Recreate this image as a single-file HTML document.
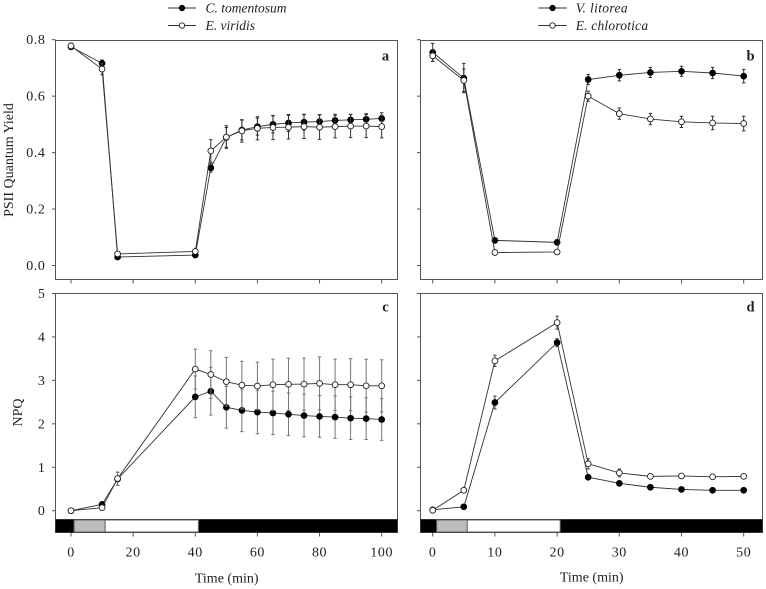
<!DOCTYPE html>
<html lang="en">
<head>
<meta charset="utf-8">
<title>PSII Quantum Yield and NPQ over time</title>
<style>
html,body{margin:0;padding:0;background:#fff;width:766px;height:589px;overflow:hidden}
svg{display:block;font-family:"Liberation Serif",serif;}
text{fill:#222}
</style>
</head>
<body>
<svg id="figure" xmlns="http://www.w3.org/2000/svg" width="766" height="589" viewBox="0 0 766 589">
  <defs><filter id="soft" x="-2%" y="-2%" width="104%" height="104%"><feGaussianBlur stdDeviation="0.35"/></filter></defs>
  <g id="root" filter="url(#soft)">
    <text transform="translate(13,160) rotate(-90)" text-anchor="middle" font-size="14">PSII Quantum Yield</text>
    <text transform="translate(22,412.5) rotate(-90)" text-anchor="middle" font-size="14">NPQ</text>
    <text x="226.7" y="582.5" text-anchor="middle" font-size="14">Time (min)</text>
    <text x="591.7" y="581.5" text-anchor="middle" font-size="14">Time (min)</text>
    <text x="205.5" y="12.5" font-size="13.5" font-style="italic">C. tomentosum</text>
    <text x="205.5" y="30" font-size="13.5" font-style="italic">E. viridis</text>
    <text x="575.7" y="12.5" font-size="13.5" font-style="italic" letter-spacing="0.35">V. litorea</text>
    <text x="575.7" y="30" font-size="13.5" font-style="italic" letter-spacing="0.2">E. chlorotica</text>
  </g>
</svg>
<script>
const NS = 'http://www.w3.org/2000/svg';

const timesLong = [0,10,15,40,45,50,55,60,65,70,75,80,85,90,95,100];
const timesShort = [0,5,10,20,25,30,35,40,45,50];

const aFilled = [.775,.716,.03,.037,.346,.454,.48,.492,.5,.505,.508,.51,.514,.516,.518,.521];
const aFilledErr = [.01,.012,.005,.005,.015,.035,.035,.03,.03,.03,.028,.025,.022,.02,.02,.02];
const aOpen = [.778,.696,.041,.05,.406,.455,.477,.486,.489,.49,.492,.49,.492,.494,.494,.492];
const aOpenErr = [.01,.02,.005,.005,.04,.04,.04,.041,.043,.042,.042,.043,.04,.041,.041,.04];

const bFilled = [.755,.664,.089,.082,.659,.674,.684,.688,.682,.671];
const bFilledErr = [.032,.052,.005,.005,.018,.02,.018,.018,.02,.024];
const bOpen = [.743,.656,.046,.048,.6,.538,.519,.509,.505,.503];
const bOpenErr = [.02,.04,.005,.005,.018,.02,.02,.02,.024,.026];

const cFilled = [0,.146,.73,2.62,2.75,2.38,2.31,2.27,2.25,2.22,2.19,2.17,2.155,2.13,2.12,2.1];
const cFilledErr = [0,.03,.15,.48,.55,.48,.49,.5,.5,.49,.49,.48,.49,.49,.48,.48];
const cOpen = [0,.07,.74,3.26,3.135,2.97,2.89,2.87,2.9,2.91,2.915,2.93,2.9,2.9,2.875,2.875];
const cOpenErr = [0,.02,.15,.46,.55,.56,.55,.55,.59,.6,.6,.61,.59,.6,.61,.6];

const dFilled = [.02,.09,2.49,3.87,.77,.63,.54,.49,.47,.47];
const dFilledErr = [0,.03,.15,.09,.05,.03,.02,.02,.02,.02];
const dOpen = [.01,.47,3.45,4.33,1.08,.87,.79,.8,.78,.79];
const dOpenErr = [0,.05,.13,.15,.12,.09,.03,.03,.03,.03];

const yTicksTop = ['0.0','0.2','0.4','0.6','0.8'];
const yTicksBottom = ['0','1','2','3','4','5'];
const xTicksLong = ['0','20','40','60','80','100'];
const xTicksShort = ['0','10','20','30','40','50'];

const root = document.getElementById('root');
const ink = '#333';

function add(parent, tag, attrs) {
  const el = document.createElementNS(NS, tag);
  for (const k in attrs) el.setAttribute(k, attrs[k]);
  parent.appendChild(el);
  return el;
}

function drawSeries(g, times, values, errs, sx, sy, filled, errColor, prefix) {
  const eg = add(g, 'g', {});
  
  
  times.forEach((t, i) => {
    if (errs[i] <= 0) return;
    const x = sx(t), y1 = sy(values[i] - errs[i]), y2 = sy(values[i] + errs[i]);
    const p = add(eg, 'path', {d: `M${x} ${y1}V${y2}M${x-1.7} ${y1}H${x+1.7}M${x-1.7} ${y2}H${x+1.7}`, stroke: errColor, 'stroke-width': 1, fill: 'none'});
    
    
  });
  const line = add(g, 'polyline', {
    points: times.map((t, i) => sx(t) + ',' + sy(values[i])).join(' '),
    fill: 'none', stroke: ink, 'stroke-width': 0.9
  });
  
  
  times.forEach((t, i) => {
    const c = add(g, 'circle', {cx: sx(t), cy: sy(values[i]), r: 2.9, fill: filled ? '#000' : '#fff', stroke: filled ? '#000' : '#222', 'stroke-width': 0.9});
    
    
  });
}

function drawPanel(cfg) {
  const g = add(root, 'g', {});
  
  
  const sx = v => cfg.x0 + (v - cfg.xMin) * (cfg.x1 - cfg.x0) / (cfg.xMax - cfg.xMin);
  const sy = v => cfg.y0 + (v - cfg.yMin) * (cfg.y1 - cfg.y0) / (cfg.yMax - cfg.yMin);

  const frame = add(g, 'rect', {x: cfg.left, y: cfg.top, width: cfg.right - cfg.left, height: cfg.bottom - cfg.top, fill: '#fff', stroke: '#555', 'stroke-width': 1});
  
  

  // y ticks
  cfg.yTicks.forEach(lbl => {
    const y = sy(parseFloat(lbl));
    const tick = add(g, 'line', {x1: cfg.left - 3.5, x2: cfg.left, y1: y, y2: y, stroke: '#555', 'stroke-width': 1});
    
    
    if (cfg.showYLabels) {
      const t = add(g, 'text', {x: cfg.left - 10, y: y + 4.5, 'text-anchor': 'end', 'font-size': 14, 'letter-spacing': 0.6});
      t.textContent = lbl;
      
      
    }
  });

  // x ticks
  cfg.xTicks.forEach(lbl => {
    const x = sx(parseFloat(lbl));
    const tick = add(g, 'line', {x1: x, x2: x, y1: cfg.bottom, y2: cfg.bottom + 4, stroke: '#555', 'stroke-width': 1});
    
    
    if (cfg.showXLabels) {
      const t = add(g, 'text', {x: x, y: 556.5, 'text-anchor': 'middle', 'font-size': 14, 'letter-spacing': 0.6});
      t.textContent = lbl;
      
      
    }
  });

  // light regime bar
  if (cfg.bar) {
    const barTop = cfg.barTop;
    const blk = add(g, 'rect', {x: cfg.left, y: barTop, width: cfg.right - cfg.left, height: cfg.bottom - barTop, fill: '#000', stroke: '#333', 'stroke-width': 1});
    
    
    const gray = add(g, 'rect', {x: sx(cfg.bar[0]), y: barTop + 0.5, width: sx(cfg.bar[1]) - sx(cfg.bar[0]), height: cfg.bottom - barTop - 1, fill: '#bdbdbd', stroke: '#666', 'stroke-width': 1});
    
    
    const white = add(g, 'rect', {x: sx(cfg.bar[1]), y: barTop + 0.5, width: sx(cfg.bar[2]) - sx(cfg.bar[1]), height: cfg.bottom - barTop - 1, fill: '#fff', stroke: '#666', 'stroke-width': 1});
    
    
  }

  drawSeries(g, cfg.times, cfg.filled, cfg.filledErr, sx, sy, true, cfg.errColor, 'panel-' + cfg.id + '-filled');
  drawSeries(g, cfg.times, cfg.open, cfg.openErr, sx, sy, false, cfg.errColor, 'panel-' + cfg.id + '-open');

  const letter = add(g, 'text', {x: cfg.right - 12, y: cfg.top + cfg.letterDy, 'text-anchor': 'middle', 'font-size': 14.5, 'font-weight': 'bold'});
  letter.textContent = cfg.id;
  
  
}

const leftX = {left: 55.5, right: 397.5, x0: 71, x1: 381.7, xMin: 0, xMax: 100};
const rightX = {left: 420.5, right: 762.5, x0: 432.7, x1: 743.7, xMin: 0, xMax: 50};
const topY = {top: 40.5, bottom: 279.5, y0: 265.5, y1: 39.7, yMin: 0, yMax: 0.8};
const bottomY = {top: 293.5, bottom: 532.5, barTop: 519.5, y0: 510.7, y1: 293.5, yMin: 0, yMax: 5};

drawPanel({id:'a', ...leftX, ...topY, yTicks: yTicksTop, xTicks: xTicksLong, showYLabels:true, showXLabels:false, times: timesLong, filled:aFilled, filledErr:aFilledErr, open:aOpen, openErr:aOpenErr, errColor:'#333', letterDy:20});
drawPanel({id:'b', ...rightX, ...topY, yTicks: yTicksTop, xTicks: xTicksShort, showYLabels:false, showXLabels:false, times: timesShort, filled:bFilled, filledErr:bFilledErr, open:bOpen, openErr:bOpenErr, errColor:'#333', letterDy:20});
drawPanel({id:'c', ...leftX, ...bottomY, yTicks: yTicksBottom, xTicks: xTicksLong, showYLabels:true, showXLabels:true, times: timesLong, filled:cFilled, filledErr:cFilledErr, open:cOpen, openErr:cOpenErr, errColor:'#777', bar:[1,11,41], letterDy:18});
drawPanel({id:'d', ...rightX, ...bottomY, yTicks: yTicksBottom, xTicks: xTicksShort, showYLabels:false, showXLabels:true, times: timesShort, filled:dFilled, filledErr:dFilledErr, open:dOpen, openErr:dOpenErr, errColor:'#444', bar:[0.64,5.56,20.5], letterDy:18});

function legendKey(name, x1, x2, y, filled) {
  const g = add(root, 'g', {});
  
  
  add(g, 'line', {x1: x1, x2: x2, y1: y, y2: y, stroke: ink, 'stroke-width': 0.9});
  add(g, 'circle', {cx: (x1 + x2) / 2, cy: y, r: 2.7, fill: filled ? '#000' : '#fff', stroke: filled ? '#000' : '#222', 'stroke-width': 0.9});
}
legendKey('legend-key-c-tomentosum', 168, 196, 8, true);
legendKey('legend-key-e-viridis', 168, 196, 25.5, false);
legendKey('legend-key-v-litorea', 538.3, 566.7, 8, true);
legendKey('legend-key-e-chlorotica', 538.3, 566.7, 25.5, false);
</script>
</body>
</html>
